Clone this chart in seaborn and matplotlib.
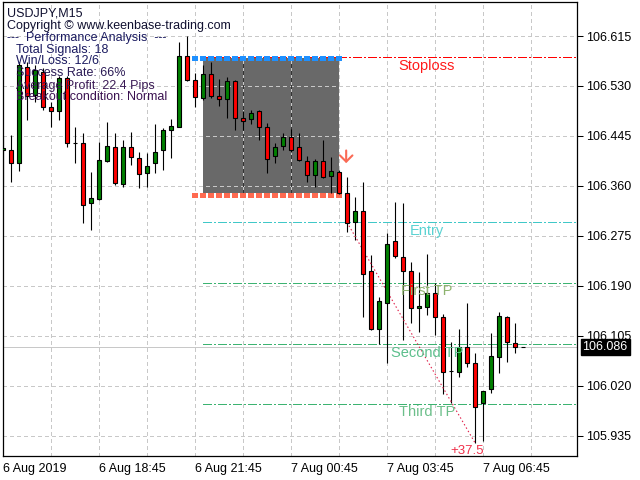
import matplotlib
matplotlib.use("Agg")
import matplotlib.pyplot as plt
import seaborn as sns
import numpy as np
import pandas as pd

# ---------------- data ----------------
opens = [106.421,106.421,106.399,106.562,106.515,106.554,106.494,106.487,106.543,106.433,
         106.433,106.331,106.338,106.402,106.426,106.363,106.426,106.408,106.382,106.399,
         106.421,106.455,106.460,106.581,106.540,106.510,106.550,106.513,106.508,106.538,
         106.475,106.474,106.487,106.460,106.411,106.428,106.443,106.426,106.402,106.378,
         106.402,106.377,106.384,106.348,106.299,106.317,106.215,106.117,106.161,106.266,
         106.239,106.215,106.152,106.154,106.178,106.137,106.045,106.044,106.086,106.059,
         105.991,106.015,106.069,106.137,106.093,106.086]
highs = [106.445,106.447,106.571,106.571,106.566,106.560,106.503,106.547,106.547,106.460,
         106.450,106.384,106.435,106.469,106.450,106.438,106.452,106.418,106.416,106.465,
         106.459,106.474,106.605,106.615,106.552,106.566,106.571,106.542,106.545,106.540,
         106.487,106.489,106.489,106.467,106.433,106.450,106.457,106.450,106.411,106.406,
         106.438,106.409,106.387,106.375,106.341,106.367,106.243,106.171,106.280,106.333,
         106.331,106.231,106.214,106.244,106.195,106.142,106.095,106.117,106.161,106.076,
         106.011,106.110,106.146,106.139,106.127,106.086]
lows = [106.358,106.367,106.385,106.472,106.503,106.489,106.460,106.472,106.426,106.399,
        106.297,106.285,106.336,106.401,106.362,106.358,106.396,106.356,106.358,106.382,
        106.387,106.408,106.460,106.538,106.494,106.506,106.510,106.496,106.475,106.455,
        106.455,106.465,106.438,106.382,106.399,106.421,106.418,106.402,106.367,106.358,
        106.373,106.348,106.346,106.282,106.268,106.137,106.115,106.091,106.059,106.238,
        106.098,106.127,106.112,106.141,106.107,106.006,105.991,106.035,106.052,105.923,
        105.926,106.008,106.042,106.061,106.076,106.086]
closes = [106.425,106.399,106.566,106.513,106.557,106.494,106.487,106.543,106.433,106.433,
          106.328,106.339,106.404,106.428,106.365,106.426,106.409,106.380,106.394,106.418,
          106.455,106.462,106.581,106.540,106.511,106.550,106.513,106.508,106.538,106.475,
          106.470,106.484,106.460,106.406,106.426,106.443,106.421,106.404,106.378,106.402,
          106.375,106.385,106.348,106.297,106.317,106.210,106.117,106.164,106.261,106.241,
          106.215,106.152,106.156,106.178,106.137,106.044,106.045,106.086,106.059,105.984,
          106.011,106.071,106.139,106.095,106.086,106.086]

x_tick_pos = [0, 12, 24, 36, 48, 60]
x_tick_labels = ["6 Aug 2019", "6 Aug 18:45", "6 Aug 21:45",
                 "7 Aug 00:45", "7 Aug 03:45", "7 Aug 06:45"]
y_ticks = [105.935, 106.020, 106.105, 106.190, 106.275, 106.360, 106.445, 106.530, 106.615]

current_price = 106.086
stoploss = 106.579
entry = 106.298
tp_levels = [106.195, 106.091, 105.989]
tp_names = ["First TP", "Second TP", "Third TP"]
range_start, range_end = 25, 42
range_high, range_low = 106.578, 106.345
signal_bar = 43
target_bar = 59
target_price = 105.923
profit_text = "+37.5"

info_lines = ["Total Signals: 18", "Win/Loss: 12/6", "Success Rate: 66%",
              "Average Profit: 22.4 Pips", "Breakout condition: Normal"]

df = pd.DataFrame({"open": opens, "high": highs, "low": lows, "close": closes})
df["bar"] = np.arange(len(df))

# ---------------- style ----------------
sns.set_style("white")
plt.rcParams["font.family"] = ["Liberation Sans", "DejaVu Sans"]
plt.rcParams["lines.scale_dashes"] = True

fig = plt.figure(figsize=(6.4, 4.8), dpi=100)
fig.patch.set_facecolor("white")
ax = fig.add_axes([2.5/640, 24/480, 574/640, 453.5/480])
ax.set_facecolor("white")

ax.set_xlim(-0.06, 71.69)
ax.set_ylim(105.9005, 106.672)

# grid
ax.set_axisbelow(True)
ax.set_xticks(x_tick_pos)
ax.set_xticks([p + 6 for p in x_tick_pos], minor=True)
ax.set_xticklabels(x_tick_labels, ha="left", fontsize=9)
ax.set_yticks(y_ticks)
ax.set_yticklabels([f"{v:.3f}" for v in y_ticks], fontsize=9)
ax.yaxis.tick_right()
ax.tick_params(axis="y", which="major", direction="out", length=4, width=0.75, pad=3, colors="black")
ax.tick_params(axis="x", which="major", direction="out", length=3, width=0.75, pad=2, colors="black")
ax.tick_params(axis="x", which="minor", length=0)
ax.grid(True, which="both", color="#c8c8c8", lw=0.72, linestyle=(0, (3, 3)), antialiased=False)
for s in ax.spines.values():
    s.set_color("black")
    s.set_linewidth(0.9)

# range rectangle
ax.fill_between([range_start, range_end], range_low + 0.003, range_high,
                color="#696969", lw=0, zorder=0.3)
for gx in [30, 36]:
    ax.vlines(gx, range_low + 0.003, range_high, color="#333333", lw=0.72,
              linestyle=(0, (3, 3)), zorder=0.6, antialiased=False)

# current price line
ax.axhline(current_price, color="#c8c8c8", lw=0.72, zorder=0.8, antialiased=False)

# level lines
dd = (0, (8.6, 2.9, 1.9, 2.9))
xmax = 71.69
ax.hlines(stoploss, range_start, xmax, color="#ff0000", lw=0.72, linestyle=dd, zorder=1, antialiased=False)
ax.hlines(entry, range_start, xmax, color="#40c8c8", lw=0.72, linestyle=dd, zorder=1, antialiased=False)
for lv in tp_levels:
    ax.hlines(lv, range_start, xmax, color="#3cb371", lw=0.72, linestyle=dd, zorder=1, antialiased=False)

# squares lines
ax.hlines(range_high, 23.6, 42.4, color="#1e90ff", lw=3.8, linestyle=(0, (1.0, 0.55)), zorder=1.5, antialiased=False)
ax.hlines(range_low, 23.6, 42.4, color="#ff6a50", lw=3.8, linestyle=(0, (1.0, 0.55)), zorder=1.5, antialiased=False)

# candles
up_col, dn_col = "#008000", "#ff0000"
ax.vlines(df["bar"], df["low"], df["high"], color="black", lw=0.8, zorder=2)
colors = []
for o, c in zip(opens, closes):
    colors.append(up_col if c > o else (dn_col if c < o else "black"))
bottoms = np.minimum(df["open"], df["close"])
heights = np.abs(df["close"] - df["open"])
ax.bar(df["bar"], heights, bottom=bottoms, width=0.62, color=colors,
       edgecolor="black", linewidth=0.8, zorder=3)

# labels of levels
lab_x = 53
ax.text(lab_x, 106.564, "Stoploss", color="#ff1a1a", fontsize=10.5, ha="center", va="center", zorder=4)
ax.text(lab_x, 106.283, "Entry", color="#5ad2d2", fontsize=10.5, ha="center", va="center", zorder=4)
tp_label_y = [106.181, 106.076, 105.976]
tp_cols = ["#8db36e", "#5cbf8c", "#6cbf8a"]
for name, ly, col in zip(tp_names, tp_label_y, tp_cols):
    ax.text(lab_x, ly, name, color=col, fontsize=10.5, ha="center", va="center", zorder=4)

# signal arrow
ax.annotate("", xy=(signal_bar - 0.1, 106.394), xytext=(signal_bar - 0.1, 106.425),
            arrowprops=dict(arrowstyle="->,head_length=0.45,head_width=0.45",
                            color="#fa6a55", lw=1.5), zorder=4)

# profit dotted line
ax.plot([signal_bar, target_bar], [entry, target_price], color="#e0204a", lw=0.8,
        linestyle=(0, (1.3, 2.2)), zorder=2.5)
ax.text(target_bar - 1, 105.909, profit_text, color="#f0304a", fontsize=9.5,
        ha="center", va="center", zorder=4)

# price box
ax.text(1.0105, current_price, f"{current_price:.3f}", transform=ax.get_yaxis_transform(),
        color="white", fontsize=9, ha="left", va="center", zorder=10, clip_on=False,
        bbox=dict(boxstyle="square,pad=0.15", facecolor="black", edgecolor="black"))

# header text
def ftext(px, py, s, color, **kw):
    fig.text(px / 640, 1 - py / 480, s, color=color, fontsize=9, ha="left", va="center", **kw)

ftext(7, 13, "USDJPY,M15", "#101030")
ftext(7, 25.5, "Copyright \u00a9 www.keenbase-trading.com", "#101030")
ftext(7, 37.5, "---  Performance Analysis  ---", "#1a1a60")
info_cols = ["#1a1a60", "#1a1a60", "#2a1a55", "#3a1a55", "#3a1050"]
for i, (line, col) in enumerate(zip(info_lines, info_cols)):
    ftext(16, 49.5 + 12 * i, line, col)

fig.savefig("out.png", dpi=100)
